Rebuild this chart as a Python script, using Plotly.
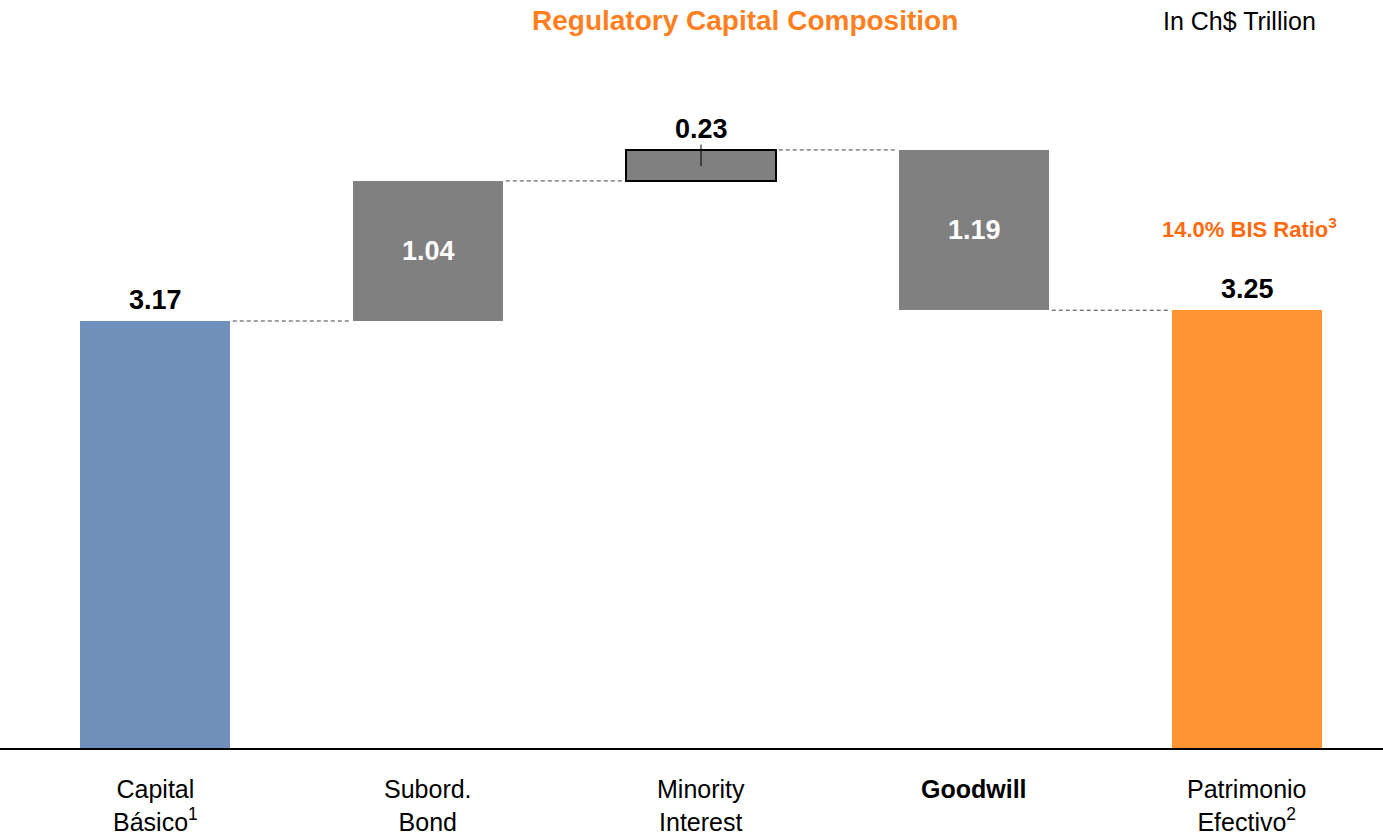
import plotly.graph_objects as go

categories = ["Capital<br>Básico<sup>1</sup>", "Subord.<br>Bond", "Minority<br>Interest", "<b>Goodwill</b>", "Patrimonio<br>Efectivo<sup>2</sup>"]
values = [3.17, 1.04, 0.23, -1.19, 3.25]
kinds = ["total", "delta", "delta", "delta", "total"]
value_labels = ["3.17", "1.04", "0.23", "1.19", "3.25"]
colors = ["#7090BB", "#808080", "#808080", "#808080", "#FF9433"]
title = "Regulatory Capital Composition"
unit = "In Ch$ Trillion"
ratio_note = "14.0% BIS Ratio<sup>3</sup>"

# compute bar bases/tops
bases, tops, levels = [], [], []
running = 0.0
for v, k in zip(values, kinds):
    if k == "total":
        b, t = 0.0, v
        running = v
    else:
        b = running if v >= 0 else running + v
        t = running + v if v >= 0 else running
        running += v
    bases.append(b)
    tops.append(t)
    levels.append(running)

xs = list(range(len(categories)))
bw = 0.55
FONT = "Liberation Sans, Arial, sans-serif"

# plot-area geometry (pixels)
PT, PB = 50, 748
H = 835
ph = PB - PT

def py(pix):
    return (PB - pix) / ph

fig = go.Figure()
line_w = [0, 0, 2, 0, 0]
fig.add_trace(go.Bar(
    x=xs, y=[t - b for t, b in zip(tops, bases)], base=bases, width=bw,
    marker=dict(color=colors, line=dict(color="black", width=line_w)),
    hoverinfo="skip", showlegend=False,
))

# connectors
for i in range(len(xs) - 1):
    lvl = levels[i]
    fig.add_shape(type="line", x0=xs[i] + bw / 2 + 0.01, x1=xs[i + 1] - bw / 2 - 0.012,
                  y0=lvl, y1=lvl, xref="x", yref="y",
                  line=dict(color="#404040", width=1, dash="4px,3px"))

# small tick in the minority bar
fig.add_shape(type="line", x0=xs[2], x1=xs[2], y0=tops[2] + 0.04, y1=tops[2] - 0.12,
              xref="x", yref="y", line=dict(color="black", width=1))

ann = []
for i, (lab, k) in enumerate(zip(value_labels, kinds)):
    if k == "total" or i == 2:
        ann.append(dict(x=xs[i], y=tops[i], xref="x", yref="y", text=f"<b>{lab}</b>",
                        showarrow=False, yanchor="bottom", yshift=4,
                        font=dict(size=27, color="black", family=FONT)))
    else:
        ann.append(dict(x=xs[i], y=(tops[i] + bases[i]) / 2, xref="x", yref="y", text=f"<b>{lab}</b>",
                        showarrow=False, yanchor="middle",
                        font=dict(size=27, color="white", family=FONT)))

# category labels
for i, c in enumerate(categories):
    ann.append(dict(x=xs[i], y=0, xref="x", yref="paper", text=c, showarrow=False,
                    yanchor="top", yshift=-25, font=dict(size=25, color="black", family=FONT)))

ann.append(dict(x=xs[4], y=py(228), xref="x", yref="paper", text=f"<b>{ratio_note}</b>", showarrow=False,
                yanchor="middle", xshift=2, font=dict(size=22, color="#FF6A0F", family=FONT)))
ann.append(dict(x=745 / 1383, y=py(21), xref="paper", yref="paper", text=f"<b>{title}</b>",
                showarrow=False, yanchor="middle", xanchor="center",
                font=dict(size=28, color="#FF7F1F", family=FONT)))
ann.append(dict(x=1239 / 1383, y=py(21), xref="paper", yref="paper", text=unit,
                showarrow=False, yanchor="middle", xanchor="center",
                font=dict(size=25, color="black", family=FONT)))

fig.update_layout(
    annotations=ann,
    width=1383, height=H,
    margin=dict(l=0, r=0, t=PT, b=H - PB),
    plot_bgcolor="white", paper_bgcolor="white",
    xaxis=dict(range=[-155 / 273, 1228 / 273], showticklabels=False, showgrid=False, zeroline=False,
               showline=True, linecolor="black", linewidth=2, fixedrange=True),
    yaxis=dict(range=[0, ph / 134.7], visible=False, showgrid=False, fixedrange=True),
    bargap=0,
)

fig.write_html("out.html", config={"displayModeBar": False})
